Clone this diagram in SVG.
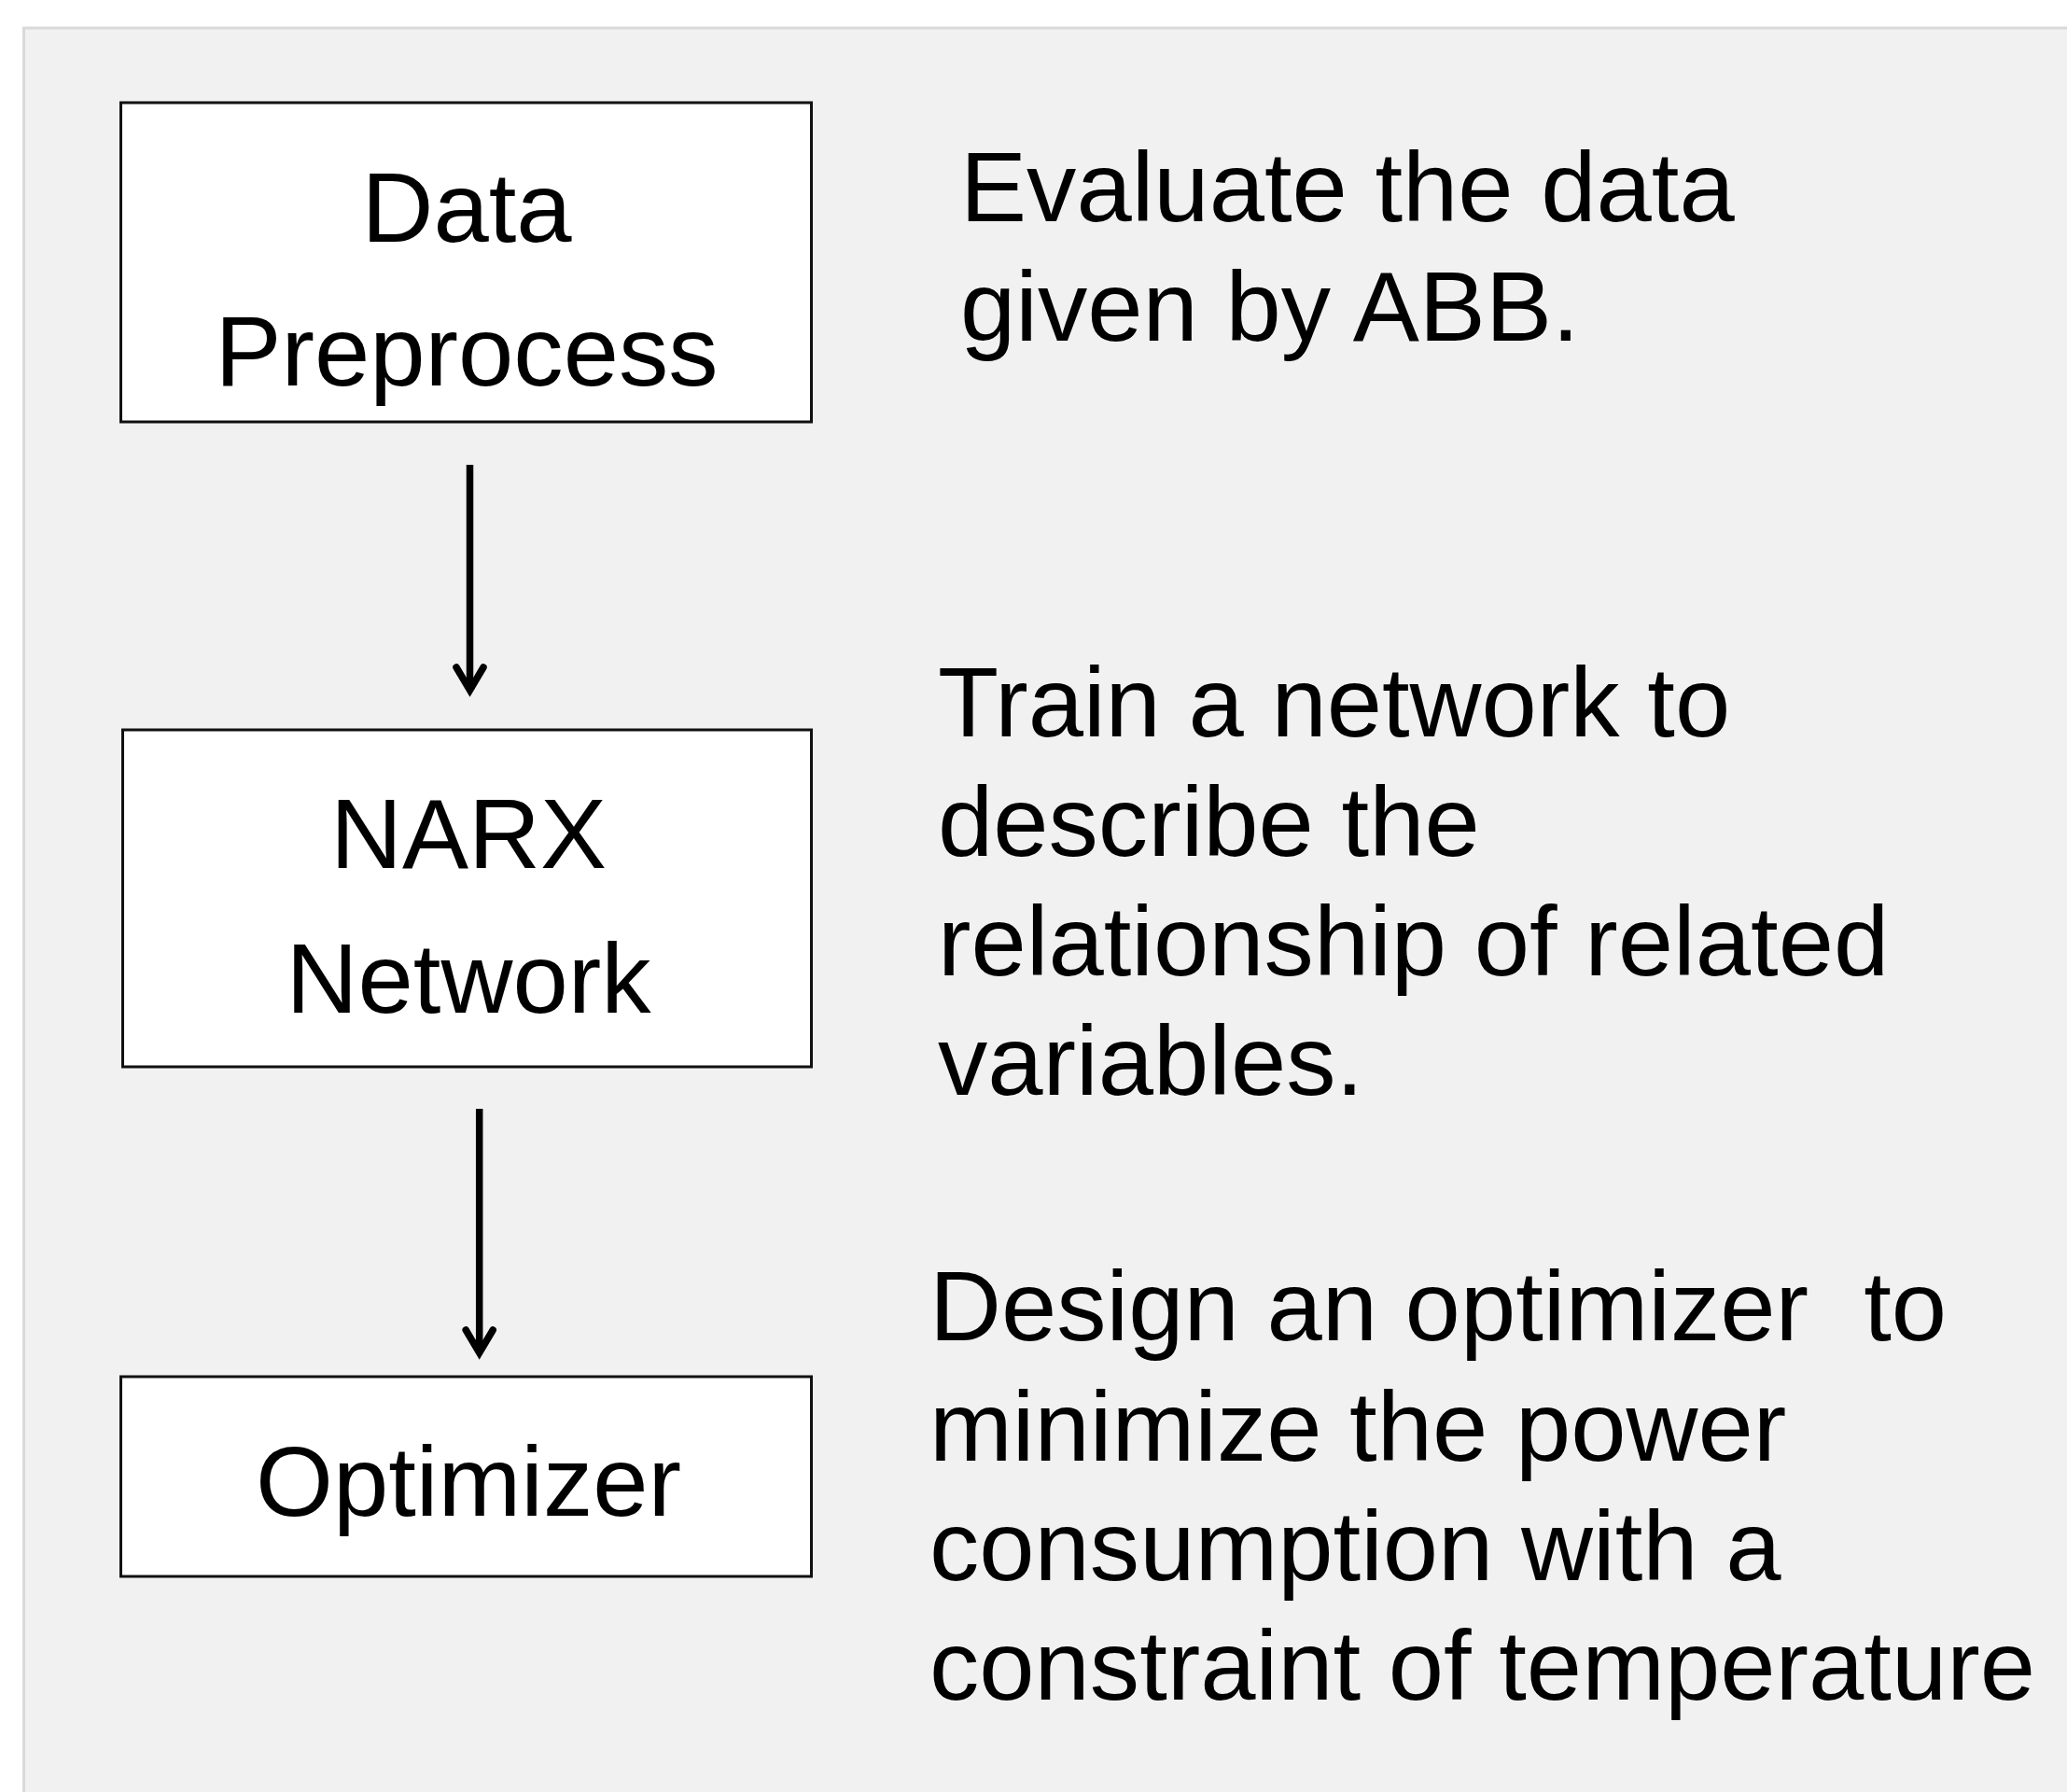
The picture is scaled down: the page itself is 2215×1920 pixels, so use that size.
<svg xmlns="http://www.w3.org/2000/svg" width="2215" height="1920" viewBox="0 0 2215 1920">
  <style>
    .box { fill: #ffffff; stroke: #111111; stroke-width: 3; }
    .label { font-family: "Liberation Sans", Arial, sans-serif; font-size: 106.6px; fill: #000000; }
    .mid { text-anchor: middle; }
    .edge { fill: none; stroke: #000000; stroke-width: 7.5; }
    .head { fill: none; stroke: #000000; stroke-width: 7.5; stroke-linecap: round; stroke-linejoin: miter; stroke-miterlimit: 10; }
  </style>

  <!-- page and grey panel -->
  <rect x="0" y="0" width="2215" height="1920" fill="#ffffff"/>
  <rect x="25.5" y="30" width="2200" height="1900" fill="#f1f1f1" stroke="#dadada" stroke-width="3"/>

  <!-- flow nodes -->
  <g id="node-preprocess">
    <rect class="box" x="129.5" y="110" width="740" height="342"/>
    <text class="label mid" x="500" y="259">Data</text>
    <text class="label mid" x="500" y="413">Preprocess</text>
  </g>

  <g id="node-narx">
    <rect class="box" x="131.5" y="782" width="738" height="361"/>
    <text class="label mid" x="502" y="930">NARX</text>
    <text class="label mid" x="502" y="1085">Network</text>
  </g>

  <g id="node-optimizer">
    <rect class="box" x="129.5" y="1475" width="740" height="214"/>
    <text class="label mid" x="502" y="1624">Optimizer</text>
  </g>

  <!-- connectors -->
  <g id="connectors">
    <g id="edge-preprocess-narx">
      <line class="edge" x1="503.5" y1="498" x2="503.5" y2="738"/>
      <path class="head" d="M489,715 L503.5,739.5 L518,715"/>
    </g>
    <g id="edge-narx-optimizer">
      <line class="edge" x1="513.7" y1="1188" x2="513.7" y2="1448"/>
      <path class="head" d="M499.2,1425 L513.7,1449.5 L528.2,1425"/>
    </g>
  </g>

  <!-- step descriptions -->
  <g id="note-preprocess">
    <text class="label" x="1029" y="237">Evaluate the data</text>
    <text class="label" x="1029" y="365">given by ABB.</text>
  </g>

  <g id="note-narx">
    <text class="label" x="1005" y="789">Train a network to</text>
    <text class="label" x="1005" y="917">describe the</text>
    <text class="label" x="1005" y="1045">relationship of related</text>
    <text class="label" x="1005" y="1173">variables.</text>
  </g>

  <g id="note-optimizer">
    <text class="label" x="996" y="1436" xml:space="preserve">Design an optimizer  to</text>
    <text class="label" x="996" y="1565">minimize the power</text>
    <text class="label" x="996" y="1693">consumption with a</text>
    <text class="label" x="996" y="1821">constraint of temperature</text>
  </g>
</svg>
